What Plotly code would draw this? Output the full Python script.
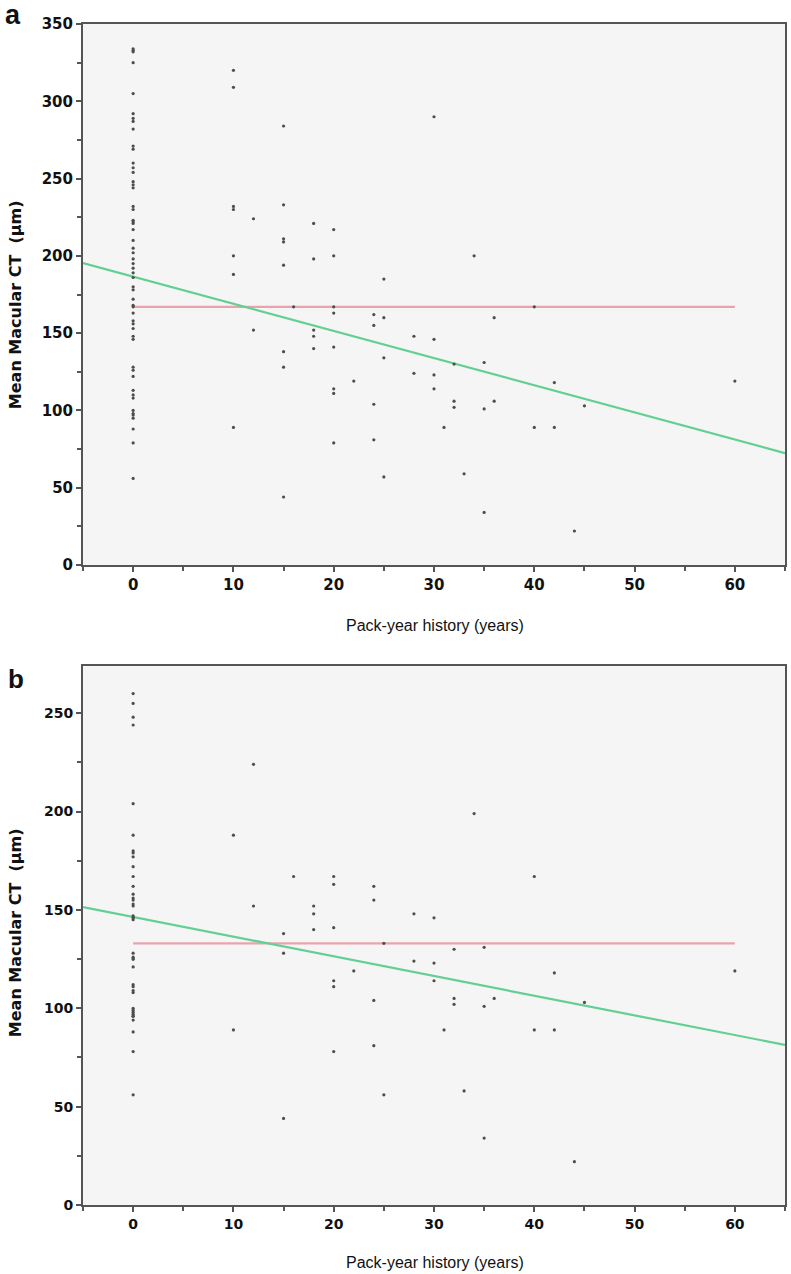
import plotly.graph_objects as go

# ---------------- Panel a data ----------------
a_zero_ct = [334, 333, 332, 325, 305, 292, 289, 287, 282, 271, 269, 260, 257, 254,
             248, 246, 244, 232, 230, 223, 222, 221, 217, 210, 205, 202, 198, 195,
             192, 189, 186, 180, 178, 172, 168, 167, 163, 158, 156, 153, 148, 146,
             128, 126, 122, 113, 110, 108, 100, 98, 97, 95, 88, 79, 56]
a_pack = [10, 10, 10, 10, 10, 10, 10,
          12, 12,
          15, 15, 15, 15, 15, 15, 15, 15,
          16,
          18, 18, 18, 18, 18,
          20, 20, 20, 20, 20, 20, 20, 20,
          22,
          24, 24, 24, 24,
          25, 25, 25, 25,
          28, 28,
          30, 30, 30, 30,
          31,
          32, 32, 32,
          33, 34,
          35, 35, 35,
          36, 36,
          40, 40,
          42, 42,
          44, 45, 60]
a_ct = [320, 309, 232, 230, 200, 188, 89,
        224, 152,
        284, 233, 211, 209, 194, 138, 128, 44,
        167,
        221, 198, 152, 148, 140,
        217, 200, 167, 163, 141, 114, 111, 79,
        119,
        162, 155, 104, 81,
        185, 160, 134, 57,
        148, 124,
        290, 146, 123, 114,
        89,
        130, 106, 102,
        59, 200,
        131, 101, 34,
        160, 106,
        167, 89,
        118, 89,
        22, 103, 119]
a_fit_intercept = 186.6
a_fit_slope = -1.757
a_mean = 167

# ---------------- Panel b data ----------------
b_zero_ct = [260, 255, 248, 244, 204, 188, 180, 179, 177, 172, 167, 162, 158, 156,
             155, 153, 152, 147, 146, 146, 145, 128, 126, 125, 125, 121, 112, 111,
             109, 108, 100, 99, 98, 97, 96, 96, 94, 88, 78, 56]
b_pack = [10, 10,
          12, 12,
          15, 15, 15,
          16,
          18, 18, 18,
          20, 20, 20, 20, 20, 20,
          22,
          24, 24, 24, 24,
          25, 25,
          28, 28,
          30, 30, 30,
          31,
          32, 32, 32,
          33, 34,
          35, 35, 35,
          36,
          40, 40,
          42, 42,
          44, 45, 60]
b_ct = [188, 89,
        224, 152,
        138, 128, 44,
        167,
        152, 148, 140,
        167, 163, 141, 114, 111, 78,
        119,
        162, 155, 104, 81,
        133, 56,
        148, 124,
        146, 123, 114,
        89,
        130, 105, 102,
        58, 199,
        131, 101, 34,
        105,
        167, 89,
        118, 89,
        22, 103, 119]
b_fit_intercept = 146.4
b_fit_slope = -1.0
b_mean = 133

x_ticks = [0, 10, 20, 30, 40, 50, 60]
x_range = [-5, 65]

W, H = 791, 1274
L, R, T, B = 83, 4, 24, 69
plot_h = H - T - B
plot_w = W - L - R


def to_paper_y(px):
    return (H - px - B) / plot_h


def px_x(px):
    return (px - L) / plot_w


dot_color = "#4d4d4d"
green = "#63cf93"
pink = "#eaa3ad"

fig = go.Figure()


def add_panel(xa, ya, zero_ct, pack, ct, icpt, slope, mean):
    xs = [0] * len(zero_ct) + pack
    ys = zero_ct + ct
    fig.add_trace(go.Scatter(x=[0, 60], y=[mean, mean], mode="lines", xaxis=xa, yaxis=ya,
                             line=dict(color=pink, width=2.2), showlegend=False))
    fx = [x_range[0], x_range[1]]
    fy = [icpt + slope * v for v in fx]
    fig.add_trace(go.Scatter(x=fx, y=fy, mode="lines", xaxis=xa, yaxis=ya,
                             line=dict(color=green, width=2.2), showlegend=False))
    fig.add_trace(go.Scatter(x=xs, y=ys, mode="markers", xaxis=xa, yaxis=ya,
                             marker=dict(size=3.2, color=dot_color), showlegend=False,
                             hoverinfo="skip"))


add_panel("x", "y", a_zero_ct, a_pack, a_ct, a_fit_intercept, a_fit_slope, a_mean)
add_panel("x2", "y2", b_zero_ct, b_pack, b_ct, b_fit_intercept, b_fit_slope, b_mean)

tick_font = dict(family="DejaVu Sans, sans-serif", size=15, color="#111", weight="bold")
tick_font_b = dict(family="DejaVu Sans, sans-serif", size=14, color="#111", weight="bold")
axis_common = dict(showline=True, linecolor="#555", linewidth=2, mirror=True,
                   showgrid=False, zeroline=False, ticks="outside", ticklen=5,
                   tickwidth=1.5, tickcolor="#555")
minor_x = dict(dtick=5, tick0=0, ticks="outside", ticklen=4, tickcolor="#555")
minor_y = dict(dtick=25, tick0=0, ticks="outside", ticklen=4, tickcolor="#555")

a_dom = [to_paper_y(565), to_paper_y(24)]
b_dom = [to_paper_y(1205), to_paper_y(666)]

fig.update_layout(
    width=W, height=H,
    margin=dict(l=L, r=R, t=T, b=B),
    paper_bgcolor="white",
    plot_bgcolor="#f5f5f5",
    xaxis=dict(domain=[0, 1], anchor="y", range=x_range, tickvals=x_ticks,
               minor=minor_x, tickfont=tick_font, **axis_common),
    yaxis=dict(domain=a_dom, anchor="x", range=[0, 350], dtick=50,
               minor=minor_y, tickfont=tick_font, **axis_common),
    xaxis2=dict(domain=[0, 1], anchor="y2", range=x_range, tickvals=x_ticks,
                minor=minor_x, tickfont=tick_font_b, **axis_common),
    yaxis2=dict(domain=b_dom, anchor="x2", range=[0, 274], dtick=50,
                minor=minor_y, tickfont=tick_font_b, **axis_common),
)

ytitle_font = dict(family="DejaVu Sans, sans-serif", size=16, color="#111", weight="bold")
xtitle_font = dict(family="Liberation Sans, Arial, sans-serif", size=16, color="#111")
ann = [
    dict(text="<b>a</b>", x=px_x(13), y=to_paper_y(15),
         font=dict(family="Liberation Sans, Arial", size=27, color="#111")),
    dict(text="<b>b</b>", x=px_x(16), y=to_paper_y(679),
         font=dict(family="Liberation Sans, Arial", size=26, color="#111")),
    dict(text="Mean Macular CT  (µm)", x=px_x(15), y=to_paper_y(305), textangle=-90, font=ytitle_font),
    dict(text="Mean Macular CT  (µm)", x=px_x(15), y=to_paper_y(933), textangle=-90, font=ytitle_font),
    dict(text="Pack-year history (years)", x=px_x(436), y=to_paper_y(625), font=xtitle_font),
    dict(text="Pack-year history (years)", x=px_x(436), y=to_paper_y(1262), font=xtitle_font),
]
for a in ann:
    a.update(xref="paper", yref="paper", showarrow=False, xanchor="center", yanchor="middle")
fig.update_layout(annotations=ann)

fig.write_html(
    "out.html",
    config={"displayModeBar": False},
    post_script="document.body.style.margin='0';document.body.style.padding='0';"
                "document.documentElement.style.overflow='hidden';",
)
